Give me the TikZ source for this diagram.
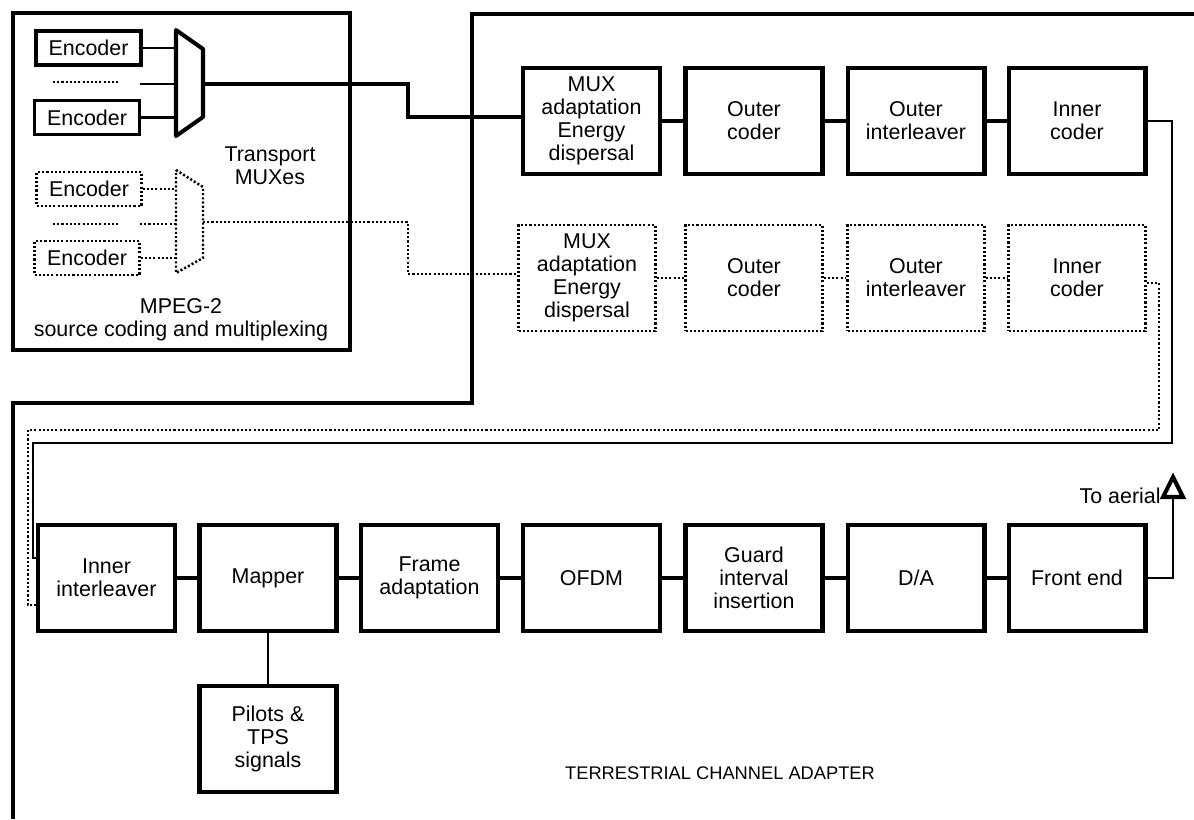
\documentclass[tikz,border=0pt]{standalone}
\usepackage{fontspec}
\setmainfont{Liberation Sans}
\begin{document}
\begin{tikzpicture}[x = 0.02cm, y = -0.02cm]
        \tikzstyle{block} = [minimum width = 2.74cm, minimum height = 2.12cm, inner sep = 1pt, align = center, line width = 2.3pt, font = \fontsize{12.2}{13}\selectfont]
        \tikzstyle{enc} = [minimum width = 2.1cm, minimum height = 0.68cm, inner sep = 1pt, line width = 2.1pt, font = \fontsize{12.2}{13}\selectfont]
        \tikzstyle{dots} = [line width = 1.4pt, dash pattern = on 1.2pt off 1.2pt]
        \tikzstyle{wire} = [line width = 1.2pt]
        \tikzstyle{link} = [line width = 1.8pt]
        \tikzstyle{heavy} = [line width = 2.3pt]
        \tikzstyle{caption} = [align = center, font = \fontsize{12.2}{13}\selectfont]
        \useasboundingbox (0,0) rectangle (1194,819);
        % source coding and multiplexing
        \draw[heavy] (13,13) rectangle (350,350);
        \node[enc] (E-1) at (88.5, 48) [draw] {Encoder};
        \node[enc] (E-2) at (87, 117.5) [draw] {Encoder};
        \node[enc, dots] (E-3) at (89, 189) [draw] {Encoder};
        \node[enc, dots] (E-4) at (87, 258) [draw] {Encoder};
        \draw[heavy, line join = round] (176, 30) -- (203, 49) -- (203, 117) -- (176, 136) -- cycle;
        \draw[dots] (176, 170) -- (203, 187) -- (203, 258) -- (176, 273) -- cycle;
        \coordinate (L-1) at (176, 84);
        \coordinate (L-2) at (176, 224);
        \coordinate (X-1) at (203, 84);
        \coordinate (X-2) at (203, 222);
        \draw[wire] (E-1.east) -- (E-1.east -| L-1);
        \draw[wire] (E-2.east) -- (E-2.east -| L-1);
        \draw[dots] (53, 82) -- (120, 82);
        \draw[wire] (140, 84) -- (L-1);
        \draw[dots] (E-3.east) -- (E-3.east -| L-2);
        \draw[dots] (E-4.east) -- (E-4.east -| L-2);
        \draw[dots] (53, 224) -- (120, 224);
        \draw[dots] (140, 224) -- (L-2);
        \node[caption] (T) at (270, 166) {Transport\\MUXes};
        \node[caption] (S) at (181, 320) {MPEG-2\\source coding and multiplexing};
        % terrestrial channel adapter
        \draw[heavy] (1194, 14) -- (472, 14) -- (472, 403) -- (13, 403) -- (13, 819);
        \node[block] (A-1) at (591.5, 121) [draw] {MUX\\adaptation\\Energy\\dispersal};
        \node[block] (B-1) at (754, 121) [draw] {Outer\\coder};
        \node[block] (C-1) at (916, 121) [draw] {Outer\\interleaver};
        \node[block] (D-1) at (1077, 121) [draw] {Inner\\coder};
        \node[block, dots] (A-2) at (587, 278) [draw] {MUX\\adaptation\\Energy\\dispersal};
        \node[block, dots] (B-2) at (754, 278) [draw] {Outer\\coder};
        \node[block, dots] (C-2) at (916, 278) [draw] {Outer\\interleaver};
        \node[block, dots] (D-2) at (1077, 278) [draw] {Inner\\coder};
        \node[block] (F-1) at (106.5, 578) [draw] {Inner\\interleaver};
        \node[block] (F-2) at (268, 578) [draw] {Mapper};
        \node[block] (F-3) at (429.5, 578) [draw] {Frame\\adaptation};
        \node[block] (F-4) at (591.5, 578) [draw] {OFDM};
        \node[block] (F-5) at (754, 578) [draw] {Guard\\interval\\insertion};
        \node[block] (F-6) at (916, 578) [draw] {D/A};
        \node[block] (F-7) at (1077, 578) [draw] {Front end};
        \node[block] (P) at (268, 739) [draw] {Pilots \&\\TPS\\signals};
        \coordinate (M-1) at (408, 117);
        \coordinate (M-2) at (408, 274);
        \draw[link] (X-1) -| (M-1) -- (M-1 -| A-1.west);
        \draw[dots] (X-2) -| (M-2) -- (M-2 -| A-2.west);
        \draw[link] (A-1) -- (B-1);
        \draw[link] (B-1) -- (C-1);
        \draw[link] (C-1) -- (D-1);
        \draw[dots] (A-2) -- (B-2);
        \draw[dots] (B-2) -- (C-2);
        \draw[dots] (C-2) -- (D-2);
        \coordinate (R-1) at (33, 558);
        \coordinate (R-2) at (28, 605);
        \draw[wire] (D-1.east) -| (1172, 443) -| (R-1) -- (R-1 -| F-1.west);
        \draw[dots] (D-2.east) ++(0, 5) -| (1159, 430) -| (R-2) -- (R-2 -| F-1.west);
        \draw[link] (F-1) -- (F-2);
        \draw[link] (F-2) -- (F-3);
        \draw[link] (F-3) -- (F-4);
        \draw[link] (F-4) -- (F-5);
        \draw[link] (F-5) -- (F-6);
        \draw[link] (F-6) -- (F-7);
        \draw[wire] (F-2) -- (P);
        % aerial
        \coordinate (Y) at (1173, 497);
        \draw[wire] (F-7.east) -| (Y);
        \draw[heavy, line join = miter] (1163, 497) -- (1173, 477) -- (1183, 497) -- cycle;
        \node[caption, anchor = east, inner sep = 0pt] (To) at (1161, 496) {To aerial};
        \node[caption, font = \fontsize{10.4}{12}\selectfont] (TCA) at (720, 773) {TERRESTRIAL CHANNEL ADAPTER};
\end{tikzpicture}
\end{document}
